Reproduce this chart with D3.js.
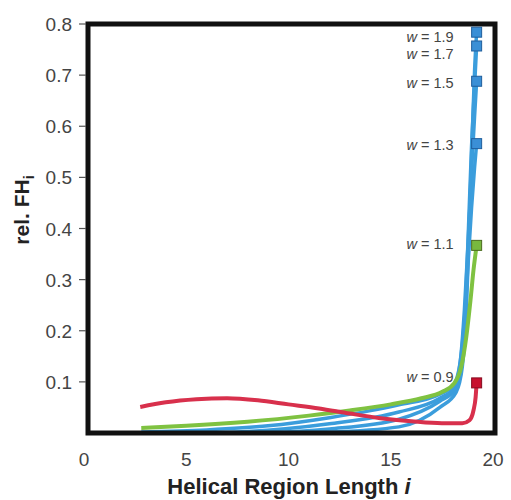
<!DOCTYPE html>
<html>
<head>
<meta charset="utf-8">
<script src="https://cdn.jsdelivr.net/npm/d3@7"></script>
<style>
  body { margin: 0; background: #fff; }
  text { font-family: "Liberation Sans", Arial, sans-serif; }
</style>
</head>
<body>
<svg id="chart" width="511" height="500"></svg>
<script>
// values, x = helical region length i, y = rel. FH_i
const wLabels = ['1.9', '1.7', '1.5', '1.3', '1.1', '0.9'];

const w19 = [[9, 0], [12, 0.002], [15.4, 0.012], [17.4, 0.05], [18.2, 0.08], [18.5, 0.13], [18.7, 0.24], [18.85, 0.42], [19.0, 0.6], [19.1, 0.71], [19.2, 0.784]];
const w17 = [[7, 0], [9, 0.001], [12, 0.008], [15.4, 0.027], [17.4, 0.062], [18.15, 0.085], [18.45, 0.14], [18.65, 0.25], [18.8, 0.4], [18.95, 0.56], [19.1, 0.68], [19.2, 0.757]];
const w15 = [[5, 0], [8, 0.003], [12, 0.018], [15.4, 0.041], [17.4, 0.068], [18.1, 0.088], [18.4, 0.14], [18.6, 0.24], [18.78, 0.37], [18.95, 0.51], [19.1, 0.62], [19.2, 0.688]];
const w13 = [[2.8, 0.002], [6, 0.006], [9, 0.014], [12, 0.03], [15.4, 0.055], [17.4, 0.076], [18.05, 0.092], [18.4, 0.14], [18.6, 0.22], [18.78, 0.33], [18.95, 0.44], [19.1, 0.52], [19.2, 0.566]];
const w11 = [[2.8, 0.01], [5, 0.014], [8, 0.022], [11, 0.034], [13, 0.044], [15, 0.056], [16.5, 0.068], [17.5, 0.08], [18.1, 0.097], [18.45, 0.13], [18.7, 0.19], [18.9, 0.26], [19.05, 0.32], [19.2, 0.367]];
const w09 = [[2.75, 0.051], [4, 0.06], [5.5, 0.066], [7, 0.068], [8.5, 0.064], [10, 0.056], [11.5, 0.048], [13, 0.038], [14.5, 0.029], [16, 0.023], [17.5, 0.019], [18.5, 0.019], [18.85, 0.025], [19.05, 0.045], [19.15, 0.07], [19.2, 0.098]];

const xTicks = [0, 5, 10, 15, 20];
const yTicks = [0.1, 0.2, 0.3, 0.4, 0.5, 0.6, 0.7, 0.8];

const svg = d3.select('#chart');

const x = d3.scaleLinear().domain([0, 20]).range([84, 493]);
const y = d3.scaleLinear().domain([0, 0.8]).range([433, 24]);

const blue = '#3b9ddc', green = '#7fc241', red = '#d8304c';
const series = [
  {name: wLabels[0], pts: w19, color: blue, mark: '#3a8fd6', edge: '#1f5e9c', dy: 10},
  {name: wLabels[1], pts: w17, color: blue, mark: '#3a8fd6', edge: '#1f5e9c', dy: 13},
  {name: wLabels[2], pts: w15, color: blue, mark: '#3a8fd6', edge: '#1f5e9c', dy: 7},
  {name: wLabels[3], pts: w13, color: blue, mark: '#3a8fd6', edge: '#1f5e9c', dy: 6},
  {name: wLabels[4], pts: w11, color: green, mark: '#78b83f', edge: '#4b6b1f', dy: 4},
  {name: wLabels[5], pts: w09, color: red, mark: '#c8102e', edge: '#860a1f', dy: -1}
];

const line = d3.line()
  .x(d => x(d[0]))
  .y(d => y(d[1]))
  .curve(d3.curveMonotoneX);

// blue first, then green, red on top
let g = svg.append('g');
series.forEach(s => {
  g.append('path')
    .attr('d', line(s.pts))
    .attr('fill', 'none')
    .attr('stroke', s.color)
    .attr('stroke-width', s.color == blue ? 3.5 : 4)
    .attr('stroke-linejoin', 'round');
});

// frame
svg.append('rect')
  .attr('x', 88).attr('y', 24)
  .attr('width', 495 - 88).attr('height', 433 - 24)
  .attr('fill', 'none')
  .attr('stroke', '#111')
  .attr('stroke-width', 5);

// end markers + labels
series.forEach(s => {
  let last = s.pts[s.pts.length - 1];
  svg.append('rect')
    .attr('x', x(last[0]) - 5).attr('y', y(last[1]) - 5)
    .attr('width', 10).attr('height', 10)
    .attr('fill', s.mark)
    .attr('stroke', s.edge)
    .attr('stroke-width', 1);
  let t = svg.append('text')
    .attr('x', x(last[0]) - 23)
    .attr('y', y(last[1]) + s.dy)
    .attr('text-anchor', 'end')
    .attr('font-size', 14.5)
    .attr('fill', '#444');
  t.append('tspan').attr('font-style', 'italic').text('w');
  t.append('tspan').text(' = ' + s.name);
});

// y ticks
yTicks.forEach(v => {
  svg.append('line')
    .attr('x1', 79).attr('x2', 86)
    .attr('y1', y(v)).attr('y2', y(v))
    .attr('stroke', '#555').attr('stroke-width', 1.2);
  svg.append('text')
    .attr('x', 72).attr('y', y(v) + 7)
    .attr('text-anchor', 'end')
    .attr('font-size', 19)
    .attr('fill', '#444')
    .text(v.toFixed(1));
});

// x tick labels
xTicks.forEach(v => {
  svg.append('text')
    .attr('x', x(v)).attr('y', 466)
    .attr('text-anchor', 'middle')
    .attr('font-size', 19)
    .attr('fill', '#444')
    .text(v);
});

// axis titles
let xt = svg.append('text')
  .attr('x', 289).attr('y', 494)
  .attr('text-anchor', 'middle')
  .attr('font-size', 22)
  .attr('font-weight', 'bold')
  .attr('fill', '#222');
xt.append('tspan').text('Helical Region Length ');
xt.append('tspan').attr('font-style', 'italic').text('i');

let yt = svg.append('text')
  .attr('transform', 'translate(29,210) rotate(-90)')
  .attr('text-anchor', 'middle')
  .attr('font-size', 21)
  .attr('font-weight', 'bold')
  .attr('fill', '#222');
yt.append('tspan').text('rel. FH');
yt.append('tspan').attr('font-size', 14).attr('dy', 5).text('i');
</script>
</body>
</html>
